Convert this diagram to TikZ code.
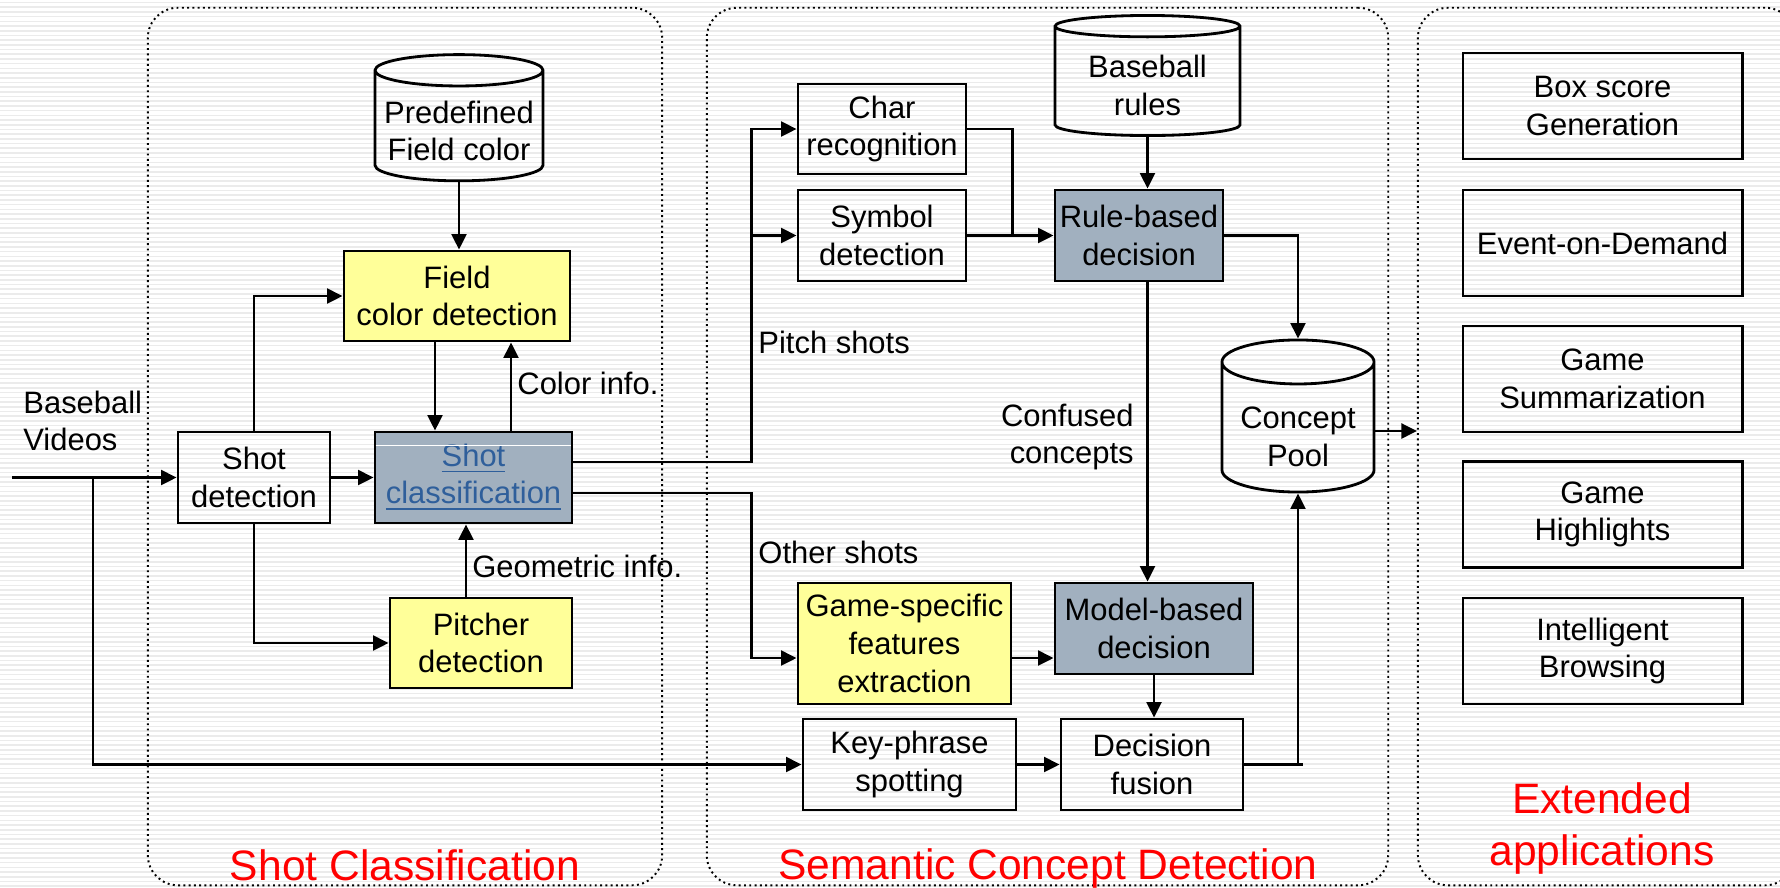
\documentclass[tikz,border=0pt]{standalone}
\usepackage{fontspec}
\setmainfont{Liberation Sans}
\usetikzlibrary{shapes.geometric,arrows.meta}
\definecolor{fieldyellow}{RGB}{255,255,153}
\definecolor{decgray}{RGB}{161,176,191}
\definecolor{linkblue}{RGB}{47,95,155}
\newcommand{\boxfont}{\fontsize{8.8}{10.7}\selectfont}
\newcommand{\titlefont}{\fontsize{12.1}{14.8}\selectfont}
% text a bit lower inside a cylinder
\newcommand{\dbtext}[2]{\raisebox{-#1}[\height][\depth]{\begin{tabular}{@{}c@{}}#2\end{tabular}}}

\begin{document}
\begin{tikzpicture}[x=0.01cm, y=-0.01cm, >={Triangle[length=4.4pt,width=4.2pt]}, line width=0.8pt,
  box/.style={draw, rectangle, inner sep=1pt, align=center, font=\boxfont},
  ybox/.style={box, fill=fieldyellow},
  gbox/.style={box, fill=decgray},
  dbase/.style={draw, cylinder, shape border rotate=90, inner sep=1pt, font=\boxfont},
  group/.style={draw, line width=0.55pt, dash pattern=on 0.55pt off 0.95pt, rounded corners=0.3cm, inner sep=0pt},
  lbl/.style={inner sep=0pt, font=\boxfont},
  title/.style={inner sep=0pt, text=red, align=center, font=\titlefont}]

  % Background
  \useasboundingbox (0,0) rectangle (1780,887);
  \fill[white] (0,0) rectangle (1780,887);
  \foreach \yy in {2.5,7.2,...,887}
    \draw[gray!16, line width=0.45pt] (0,\yy) -- (1780,\yy);

  % Groups
  \node[group, minimum width=5.14cm, minimum height=8.77cm] (shotgrp) at (405,446.5) {};
  \node[group, minimum width=6.81cm, minimum height=8.77cm] (semgrp) at (1047.5,446.5) {};
  \node[group, minimum width=3.77cm, minimum height=8.77cm] (extgrp) at (1606.5,446.5) {};

  % Shot classification
  \node[box, minimum width=1.52cm, minimum height=0.91cm] (shotdet) at (254,477.5) {Shot\\detection};
  \node[gbox, text=linkblue, minimum width=1.97cm, minimum height=0.91cm] (shotcls) at (473.5,477.5) {\underline{Shot}\\\underline{classification}};
  \draw[white, line width=0.3pt] ([xshift=0.6pt,yshift=-1.5mm]shotcls.north west) -- ([xshift=-0.6pt,yshift=-1.5mm]shotcls.north east);
  \node[ybox, minimum width=2.26cm, minimum height=0.90cm] (fieldcol) at (457,296) {Field\\color detection};
  \node[ybox, minimum width=1.82cm, minimum height=0.90cm] (pitcher) at (481,643) {Pitcher\\detection};
  \node[dbase, minimum width=1.68cm, minimum height=1.21cm, aspect=0.2] (predef) at (459,128.5) {\dbtext{0.6mm}{Predefined\\Field color}};

  % Semantic concept detection
  \node[box, minimum width=1.68cm, minimum height=0.90cm] (charrec) at (882,129) {Char\\recognition};
  \node[box, minimum width=1.68cm, minimum height=0.91cm] (symdet) at (882,235.5) {Symbol\\detection};
  \node[gbox, minimum width=1.68cm, minimum height=0.91cm] (rule) at (1139,235.5) {Rule-based\\decision};
  \node[dbase, minimum width=1.85cm, minimum height=1.20cm, aspect=0.17] (bbrules) at (1147.5,83) {\dbtext{0.6mm}{Baseball\\rules}};
  \node[ybox, minimum width=2.13cm, minimum height=1.21cm] (gamefeat) at (904.5,643.5) {Game-specific\\features\\extraction};
  \node[gbox, minimum width=1.98cm, minimum height=0.91cm] (model) at (1154,628.5) {Model-based\\decision};
  \node[box, minimum width=2.13cm, minimum height=0.91cm] (keyphr) at (909.5,764.5) {Key-phrase\\spotting};
  \node[box, minimum width=1.82cm, minimum height=0.91cm] (fusion) at (1152,764.5) {Decision\\fusion};
  \node[dbase, minimum width=1.52cm, minimum height=1.52cm, aspect=0.36] (pool) at (1298,431) {\dbtext{0.9mm}{Concept\\Pool}};

  % Extended applications
  \node[box, minimum width=2.79cm, minimum height=1.06cm] (boxscore) at (1602.5,106) {Box score\\Generation};
  \node[box, minimum width=2.79cm, minimum height=1.06cm] (eod) at (1602.5,243) {Event-on-Demand};
  \node[box, minimum width=2.79cm, minimum height=1.06cm] (summ) at (1602.5,379) {Game\\Summarization};
  \node[box, minimum width=2.79cm, minimum height=1.06cm] (highl) at (1602.5,514.5) {Game\\Highlights};
  \node[box, minimum width=2.79cm, minimum height=1.06cm] (browse) at (1602.5,651) {Intelligent\\Browsing};

  % Labels
  \node[lbl, align=left, anchor=west] (vidlbl) at (22,421) {Baseball\\Videos};
  \node[lbl, anchor=base west] (colorlbl) at (516,394) {Color info.};
  \node[lbl, anchor=base west] (geolbl) at (471,577) {Geometric info.};
  \node[lbl, anchor=base west] (pitchlbl) at (757,353) {Pitch shots};
  \node[lbl, anchor=base west] (otherlbl) at (757,563) {Other shots};
  \node[lbl, align=right, anchor=east] (conflbl) at (1135,437) {Confused\\concepts};
  \node[title, anchor=base] (shottitle) at (405,880) {Shot Classification};
  \node[title, anchor=base] (semtitle) at (1048,879) {Semantic Concept Detection};
  \node[title] (exttitle) at (1602,828) {Extended\\applications};

  % Connections
  \coordinate (vidin) at (12,477.5);
  \coordinate (vidsplit) at (93,477.5);
  \draw[->] (vidin) -- (shotdet.west);
  \draw[->] (vidsplit) |- (keyphr.west);
  \draw[->] (shotdet) -- (shotcls);
  \draw[->] (shotdet.north) |- (fieldcol.west);
  \draw[->] (shotdet.south) |- (pitcher.west);
  \draw[->] (predef.south) -- (predef.south |- fieldcol.north);
  \draw[->] ([xshift=-2.2mm]fieldcol.south) -- ([xshift=-2.2mm]fieldcol.south |- shotcls.north);
  \draw[->] ([xshift=3.75mm]shotcls.north) -- ([xshift=3.75mm]shotcls.north |- fieldcol.south);
  \draw[->] ([xshift=-1.5mm]pitcher.north) -- ([xshift=-1.5mm]pitcher.north |- shotcls.south);

  \draw[->] ([yshift=1.55mm]shotcls.east) -| ([xshift=-4.5mm]charrec.west) -- (charrec.west);
  \draw[->] ([xshift=-4.5mm]symdet.west) -- (symdet.west);
  \draw[->] ([yshift=-1.55mm]shotcls.east) -| ([xshift=-4.5mm,yshift=-1.45mm]gamefeat.west) -- ([yshift=-1.45mm]gamefeat.west);
  \draw (charrec.east) -| ([xshift=4.5mm]symdet.east);
  \draw[->] (symdet) -- (rule);
  \draw[->] (bbrules.south) -- (bbrules.south |- rule.north);
  \draw[->] (bbrules.south |- rule.south) -- (bbrules.south |- model.north);
  \draw[->] (rule.east) -| (pool.north);
  \draw[->] ([yshift=-1.45mm]gamefeat.east) -- ([yshift=-1.45mm]gamefeat.east -| model.west);
  \draw[->] (model.south) -- (model.south |- fusion.north);
  \draw[->] (keyphr) -- (fusion);
  \draw (fusion.east) -- ([xshift=0.5mm]fusion.east -| pool.south);
  \draw[->] (fusion.east -| pool.south) -- (pool.south);
  \draw[->] (pool.east) -- (pool.east -| extgrp.west);
\end{tikzpicture}
\end{document}
